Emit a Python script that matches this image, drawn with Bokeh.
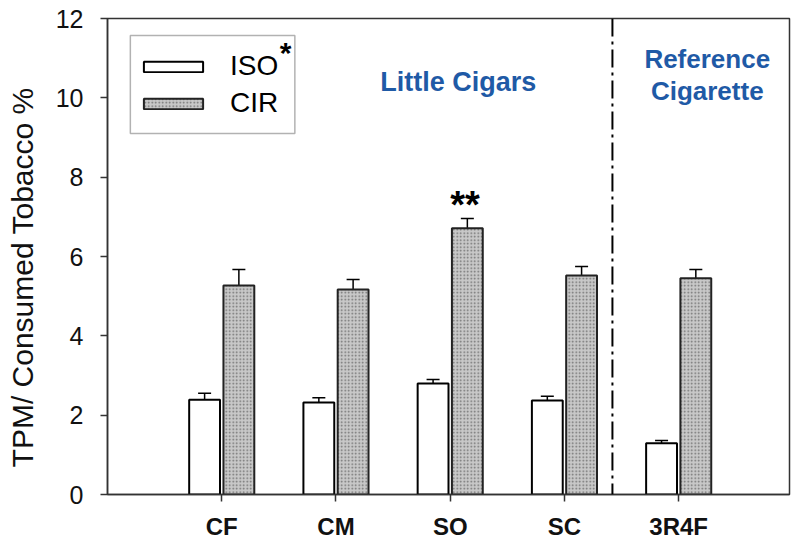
from bokeh.plotting import figure
from bokeh.models import (ColumnDataSource, Range1d, FixedTicker, Whisker, TeeHead,
                          Span, Label, Legend, LegendItem, BoxAnnotation)
from bokeh.embed import file_html
from bokeh.resources import INLINE
import numpy as np

# ---- data ----
categories = ["CF", "CM", "SO", "SC", "3R4F"]
iso_values = [2.39, 2.32, 2.80, 2.37, 1.29]
iso_errors = [0.16, 0.12, 0.10, 0.11, 0.07]
cir_values = [5.27, 5.17, 6.71, 5.52, 5.45]
cir_errors = [0.40, 0.25, 0.25, 0.23, 0.22]
y_ticks = [0, 2, 4, 6, 8, 10, 12]

FONT = "Liberation Sans"
xpos = np.arange(1, len(categories) + 1)
off = 0.15
bw = 0.27

iso_src = ColumnDataSource(dict(x=xpos - off, top=iso_values,
                                up=np.array(iso_values) + np.array(iso_errors)))
cir_src = ColumnDataSource(dict(x=xpos + off, top=cir_values,
                                up=np.array(cir_values) + np.array(cir_errors)))

p = figure(frame_width=682, frame_height=476, output_backend="svg", toolbar_location=None,
           x_range=Range1d(0, 5.97), y_range=Range1d(0, 12),
           min_border_left=107, min_border_top=18, min_border_right=3, min_border_bottom=44)

p.background_fill_color = "white"
p.border_fill_color = "white"
p.xgrid.visible = False
p.ygrid.visible = False
p.outline_line_color = "#333333"
p.outline_line_width = 1.5

iso_r = p.vbar(x="x", top="top", width=bw, bottom=0, source=iso_src,
               fill_color="white", line_color="black", line_width=2)
cir_r = p.vbar(x="x", top="top", width=bw, bottom=0, source=cir_src,
               fill_color="#c8c8c8", line_color="#222222", line_width=2,
               hatch_pattern="dot", hatch_color="#6e6e6e", hatch_scale=3.5, hatch_weight=1.2)

for src in (iso_src, cir_src):
    w = Whisker(source=src, base="x", upper="up", lower="top", dimension="height",
                line_color="black", line_width=1.5,
                upper_head=TeeHead(size=13, line_width=1.5, line_color="black"),
                lower_head=None)
    p.add_layout(w)

# separator
p.add_layout(Span(location=4.42, dimension="height", line_color="black",
                  line_width=2, line_dash="18 5 3 5"))

# annotations
BLUE = "#1f5aa6"
p.add_layout(Label(x=3.07, y=10.41, text="Little Cigars", text_font=FONT,
                   text_font_style="bold", text_font_size="27px", text_color=BLUE,
                   text_align="center", text_baseline="middle"))
p.add_layout(Label(x=5.25, y=10.97, text="Reference", text_font=FONT,
                   text_font_style="bold", text_font_size="26px", text_color=BLUE,
                   text_align="center", text_baseline="middle"))
p.add_layout(Label(x=5.25, y=10.16, text="Cigarette", text_font=FONT,
                   text_font_style="bold", text_font_size="26px", text_color=BLUE,
                   text_align="center", text_baseline="middle"))
p.add_layout(Label(x=3.13, y=7.3, text="**", text_font=FONT,
                   text_font_style="bold", text_font_size="38px", text_color="black",
                   text_align="center", text_baseline="middle"))

# legend frame (drawn as a box so the superscript asterisk can sit on top)
p.add_layout(BoxAnnotation(left=0.20, right=1.64, top=11.57, bottom=9.10,
                           fill_color="white", fill_alpha=1.0,
                           line_color="black", line_width=1.5))
p.add_layout(Label(x=1.56, y=11.15, text="*", text_font=FONT,
                   text_font_style="bold", text_font_size="30px", text_color="black",
                   text_align="center", text_baseline="middle"))

legend = Legend(items=[LegendItem(label="ISO", renderers=[iso_r]),
                       LegendItem(label="CIR", renderers=[cir_r])],
                location=(29, 375), padding=13, spacing=5,
                glyph_width=74, glyph_height=13, label_height=24, label_standoff=20,
                label_text_font=FONT, label_text_font_size="28px",
                label_text_color="black",
                border_line_color=None, background_fill_alpha=0.0)
p.add_layout(legend)

# axes
NBSP = "\u00a0"
p.yaxis.axis_label = "TPM/ Consumed Tobacco %" + NBSP * 5
p.yaxis.axis_label_text_font = FONT
p.yaxis.axis_label_text_font_size = "30px"
p.yaxis.axis_label_text_font_style = "normal"
p.yaxis.axis_label_text_color = "#111111"
p.yaxis.axis_label_standoff = 14
p.yaxis.ticker = FixedTicker(ticks=y_ticks)
p.yaxis.major_label_text_font = FONT
p.yaxis.major_label_text_font_size = "25px"
p.yaxis.major_label_standoff = 17
p.xaxis.ticker = FixedTicker(ticks=list(xpos))
p.xaxis.major_label_overrides = {int(i): c for i, c in zip(xpos, categories)}
p.xaxis.major_label_text_font = FONT
p.xaxis.major_label_text_font_size = "24px"
p.xaxis.major_label_text_font_style = "bold"
p.xaxis.major_label_standoff = 11
for ax in (p.xaxis, p.yaxis):
    ax.axis_line_color = "#333333"
    ax.axis_line_width = 1.5
    ax.major_tick_line_color = "#333333"
    ax.major_tick_line_width = 1.5
    ax.major_tick_out = 7
    ax.major_tick_in = 0
    ax.minor_tick_line_color = None
    ax.major_label_text_color = "#111111"

open("out.html", "w").write(file_html(p, INLINE))
